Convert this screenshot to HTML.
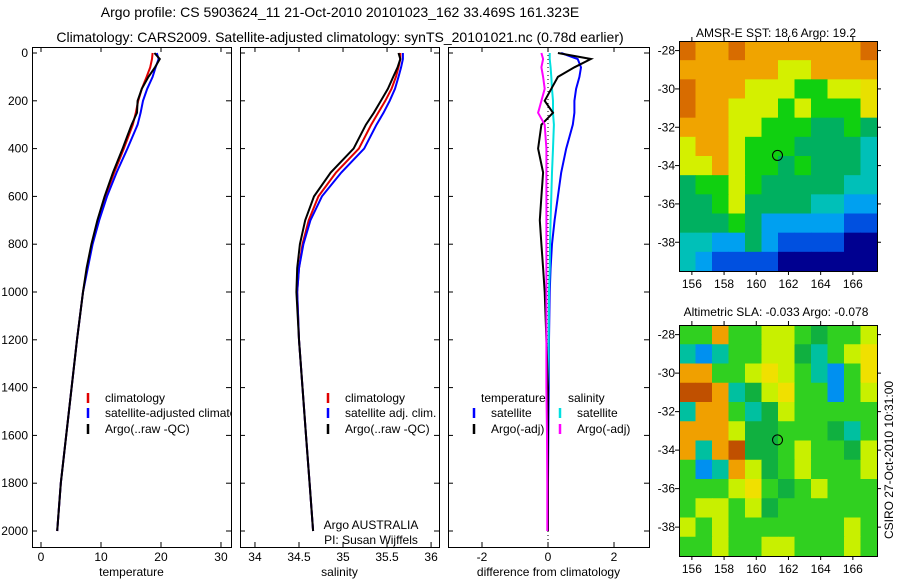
<!DOCTYPE html>
<html><head><meta charset="utf-8"><style>
body{margin:0;background:#fff}
svg{display:block;font-family:"Liberation Sans",sans-serif}
</style></head><body>
<svg id="fig" width="900" height="580" viewBox="0 0 900 580">
<text x="340" y="17" font-size="14" text-anchor="middle">Argo profile: CS 5903624_11 21-Oct-2010 20101023_162 33.469S 161.323E</text>
<text x="340" y="42" font-size="14" text-anchor="middle">Climatology: CARS2009. Satellite-adjusted climatology: synTS_20101021.nc (0.78d earlier)</text>
<text x="776" y="37" font-size="12" text-anchor="middle">AMSR-E SST: 18.6 Argo: 19.2</text>
<text x="776" y="316" font-size="12" text-anchor="middle">Altimetric SLA: -0.033 Argo: -0.078</text>
<text transform="translate(893,460) rotate(-90)" font-size="12" text-anchor="middle">CSIRO 27-Oct-2010 10:31:00</text>
<g id="layer"></g>
</svg>
<script>
// ---------- data ----------
const depths   = [0, 25, 60, 100, 150, 200, 250, 300, 400, 500, 600, 700, 800, 900, 1000, 1200, 1400, 1600, 1800, 2000];
const tempClim = [18.6, 18.5, 18.2, 17.6, 16.8, 16.2, 15.8, 15.3, 13.8, 12.2, 10.7, 9.5, 8.5, 7.7, 7.0, 6.0, 5.1, 4.2, 3.3, 2.7];
const tempSat  = [19.3, 19.6, 19.1, 18.6, 17.7, 17.0, 16.6, 16.1, 14.4, 12.6, 11.0, 9.7, 8.6, 7.8, 7.0, 6.0, 5.1, 4.2, 3.3, 2.7];
const tempArgo = [18.9, 19.8, 19.0, 17.9, 16.8, 16.1, 16.0, 15.1, 13.6, 12.0, 10.6, 9.4, 8.4, 7.6, 7.0, 6.0, 5.1, 4.2, 3.3, 2.7];
const salClim  = [35.65, 35.65, 35.63, 35.60, 35.55, 35.48, 35.40, 35.32, 35.18, 34.92, 34.72, 34.61, 34.54, 34.50, 34.48, 34.50, 34.54, 34.58, 34.62, 34.66];
const salSat   = [35.68, 35.68, 35.66, 35.63, 35.59, 35.53, 35.46, 35.38, 35.24, 34.98, 34.76, 34.63, 34.55, 34.50, 34.48, 34.50, 34.54, 34.58, 34.62, 34.66];
const salArgo  = [35.63, 35.65, 35.62, 35.57, 35.51, 35.43, 35.35, 35.26, 35.12, 34.86, 34.67, 34.57, 34.51, 34.48, 34.47, 34.50, 34.54, 34.58, 34.62, 34.66];
const dTempSat = [0.4, 0.9, 1.0, 0.95, 0.85, 0.8, 0.8, 0.75, 0.55, 0.4, 0.3, 0.2, 0.12, 0.08, 0.05, 0.03, 0.02, 0.01, 0.0, 0.0];
const dTempArgo= [0.3, 1.3, 0.8, 0.3, 0.1, -0.1, 0.15, -0.2, -0.3, -0.15, -0.2, -0.25, -0.2, -0.15, -0.1, -0.05, 0.0, 0.0, 0.0, 0.0];
const dSalSat  = [0.05, 0.05, 0.08, 0.1, 0.12, 0.15, 0.15, 0.18, 0.15, 0.12, 0.1, 0.08, 0.06, 0.05, 0.03, 0.02, 0.0, 0.0, 0.0, 0.0];
const dSalArgo = [-0.2, -0.15, -0.2, -0.15, -0.1, -0.2, -0.3, -0.1, -0.05, -0.05, -0.05, -0.05, -0.05, -0.05, -0.05, -0.05, -0.05, -0.03, -0.02, -0.02];
const depthTicks = [0, 200, 400, 600, 800, 1000, 1200, 1400, 1600, 1800, 2000];
const tempTicks = [0, 10, 20, 30];
const salTicks = [34, 34.5, 35, 35.5, 36];
const salTickLabels = ["34", "34.5", "35", "35.5", "36"];
const diffTicks = [-2, 0, 2];
const lonTicks = [156, 158, 160, 162, 164, 166];
const latTicks = [28, 30, 32, 34, 36, 38];
const argoLon = 161.32, argoLat = 33.47;
const sstGrid = [
"OooOoooooooO","ooooooyyoooo","OoooyyyggyyY","OooyyygygggY",
"oooyygggGGgG","yooygggGGGGc","yyoyggGgGGGc","GggygGGGGGcc",
"GGgyGGGGccbb","GGGgGbbbbbBB","ccbbGbBBBBNN","cbBBBBNNNNNN"];
const slaGrid = [
"ggoggyygGggy","cbcggyyGcgyY","ooggyYygcbgY","OOocGyYggbgy",
"coogcGyggggg","oooyGGgggGcg","ocoOGGgyggGy","gbcoyGgygggy",
"gggyYgGgyggg","gyygyGgggggg","ygygggggggyg","ggyggyygggyg"];
const sstColors = {O:"#d86c00",o:"#f0a400",y:"#d4f000",Y:"#e8e000",g:"#10d010",G:"#00b060",c:"#00c0b8",b:"#00a0f0",B:"#0050e0",N:"#000090"};
const slaColors = {g:"#30d020",G:"#10b040",y:"#c8f000",Y:"#f0e000",o:"#f0a000",O:"#c05000",c:"#00c0a0",b:"#0090f0"};

// ---------- drawing ----------
const NS = "http://www.w3.org/2000/svg";
const layer = document.getElementById("layer");
function el(tag, attrs, parent) {
  const e = document.createElementNS(NS, tag);
  for (const k in attrs) e.setAttribute(k, attrs[k]);
  (parent || layer).appendChild(e);
  return e;
}
const yD = d => 53 + d * 0.239;
const panels = [
  {name:"temperature", x0:32, x1:231, lo:-1.5, hi:31.67, ticks:tempTicks, labels:tempTicks.map(String), label:"temperature"},
  {name:"salinity", x0:240, x1:439, lo:33.83, hi:36.09, ticks:salTicks, labels:salTickLabels, label:"salinity"},
  {name:"difference", x0:448, x1:649, lo:-3.03, hi:3.06, ticks:diffTicks, labels:diffTicks.map(String), label:"difference from climatology"}
];
panels.forEach((p, i) => {
  p.sx = v => p.x0 + (v - p.lo) / (p.hi - p.lo) * (p.x1 - p.x0);
  const g = el("g", {});
  
  
  const cp = el("clipPath", {id:"clip" + i}, g);
  el("rect", {x:p.x0, y:47, width:p.x1 - p.x0, height:500}, cp);
  const fr = el("rect", {x:p.x0 + .5, y:47.5, width:p.x1 - p.x0, height:500, fill:"none", stroke:"#000"}, g);
  
  
  p.ticks.forEach((t, j) => {
    const x = p.sx(t);
    el("line", {x1:x, x2:x, y1:547, y2:542, stroke:"#000"}, g);
    el("line", {x1:x, x2:x, y1:47, y2:52, stroke:"#000"}, g);
    const tl = el("text", {x:x, y:561, "font-size":12, "text-anchor":"middle"}, g);
    tl.textContent = p.labels[j];
    
    
  });
  depthTicks.forEach(d => {
    el("line", {x1:p.x0, x2:p.x0 + 5, y1:yD(d), y2:yD(d), stroke:"#000"}, g);
    el("line", {x1:p.x1 - 5, x2:p.x1, y1:yD(d), y2:yD(d), stroke:"#000"}, g);
    if (i === 0) {
      const yl = el("text", {x:28, y:yD(d) + 4, "font-size":12, "text-anchor":"end"}, g);
      yl.textContent = d;
      
      
    }
  });
  const xl = el("text", {x:(p.x0 + p.x1) / 2, y:576, "font-size":12, "text-anchor":"middle"}, g);
  xl.textContent = p.label;
  
  
  p.g = el("g", {"clip-path":"url(#clip" + i + ")"}, g);
});
function line(p, vals, color, name, w) {
  const pts = vals.map((v, k) => p.sx(v).toFixed(1) + "," + yD(depths[k]).toFixed(1)).join(" ");
  const pl = el("polyline", {points:pts, fill:"none", stroke:color, "stroke-width":w || 2}, p.g);
  
  
}
const [P1, P2, P3] = panels;
el("line", {x1:P3.sx(0), x2:P3.sx(0), y1:47, y2:547, stroke:"#000", "stroke-dasharray":"1,3"}, P3.g);
line(P1, tempClim, "#e00000", "temp-climatology-line");
line(P1, tempSat, "#0000ff", "temp-satellite-line");
line(P1, tempArgo, "#000", "temp-argo-line");
line(P2, salClim, "#e00000", "sal-climatology-line");
line(P2, salSat, "#0000ff", "sal-satellite-line");
line(P2, salArgo, "#000", "sal-argo-line");
line(P3, dTempSat, "#0000ff", "diff-temp-satellite-line");
line(P3, dSalSat, "#00e0e0", "diff-sal-satellite-line");
line(P3, dTempArgo, "#000", "diff-temp-argo-line");
line(P3, dSalArgo, "#ff00ff", "diff-sal-argo-line");

function legend(p, x, y, color, label) {
  if (color) el("line", {x1:x, x2:x, y1:y - 8, y2:y + 2, stroke:color, "stroke-width":2.5}, p.g);
  const t = el("text", {x:x + (color ? 17 : 0), y:y + 1, "font-size":12}, p.g);
  t.textContent = label;
  
  
}
legend(P1, 88, 401, "#e00000", "climatology");
legend(P1, 88, 416, "#0000ff", "satellite-adjusted climatology");
legend(P1, 88, 432, "#000", "Argo(..raw -QC)");
legend(P2, 328, 401, "#e00000", "climatology");
legend(P2, 328, 416, "#0000ff", "satellite adj. clim.");
legend(P2, 328, 432, "#000", "Argo(..raw -QC)");
legend(P3, 481, 401, null, "temperature");
legend(P3, 568, 401, null, "salinity");
legend(P3, 474, 416, "#0000ff", "satellite");
legend(P3, 474, 432, "#000", "Argo(-adj)");
legend(P3, 560, 416, "#00e0e0", "satellite");
legend(P3, 560, 432, "#ff00ff", "Argo(-adj)");
const a1 = el("text", {x:371, y:529, "font-size":12, "text-anchor":"middle"}, P2.g);
a1.textContent = "Argo AUSTRALIA";


const a2 = el("text", {x:371, y:544, "font-size":12, "text-anchor":"middle"}, P2.g);
a2.textContent = "PI: Susan Wijffels";



// ---------- maps ----------
function drawMap(name, grid, colors, top, bottom) {
  const x0 = 679, x1 = 877, lonLo = 155.2, lonHi = 167.5, latLo = 27.5, latHi = 39.5;
  const mx = v => x0 + (v - lonLo) / (lonHi - lonLo) * (x1 - x0);
  const my = v => top + (v - latLo) / (latHi - latLo) * (bottom - top);
  const g = el("g", {});
  
  
  const rows = grid.length, cols = grid[0].length;
  const cw = (x1 - x0) / cols, ch = (bottom - top) / rows;
  grid.forEach((row, r) => {
    for (let c = 0; c < cols; c++) {
      const cell = el("rect", {x:x0 + c * cw, y:top + r * ch, width:cw + .5, height:ch + .5, fill:colors[row[c]]}, g);
      
      
    }
  });
  el("rect", {x:x0 + .5, y:top + .5, width:x1 - x0, height:bottom - top, fill:"none", stroke:"#000"}, g);
  lonTicks.forEach(t => {
    const x = mx(t);
    el("line", {x1:x, x2:x, y1:bottom, y2:bottom + 4, stroke:"#000"}, g);
    el("line", {x1:x, x2:x, y1:top, y2:top - 4, stroke:"#000"}, g);
    const tl = el("text", {x:x, y:bottom + 17, "font-size":12, "text-anchor":"middle"}, g);
    tl.textContent = t;
    
    
  });
  latTicks.forEach(t => {
    const y = my(t);
    el("line", {x1:x0, x2:x0 - 4, y1:y, y2:y, stroke:"#000"}, g);
    el("line", {x1:x1, x2:x1 + 4, y1:y, y2:y, stroke:"#000"}, g);
    const tl = el("text", {x:x0 - 4, y:y + 4, "font-size":12, "text-anchor":"end"}, g);
    tl.textContent = "-" + t;
    
    
  });
  const m = el("circle", {cx:mx(argoLon), cy:my(argoLat), r:5, fill:"none", stroke:"#000"}, g);
  
  
}
drawMap("sst-map", sstGrid, sstColors, 41, 271);
drawMap("sla-map", slaGrid, slaColors, 325, 556);
</script>
</body></html>
